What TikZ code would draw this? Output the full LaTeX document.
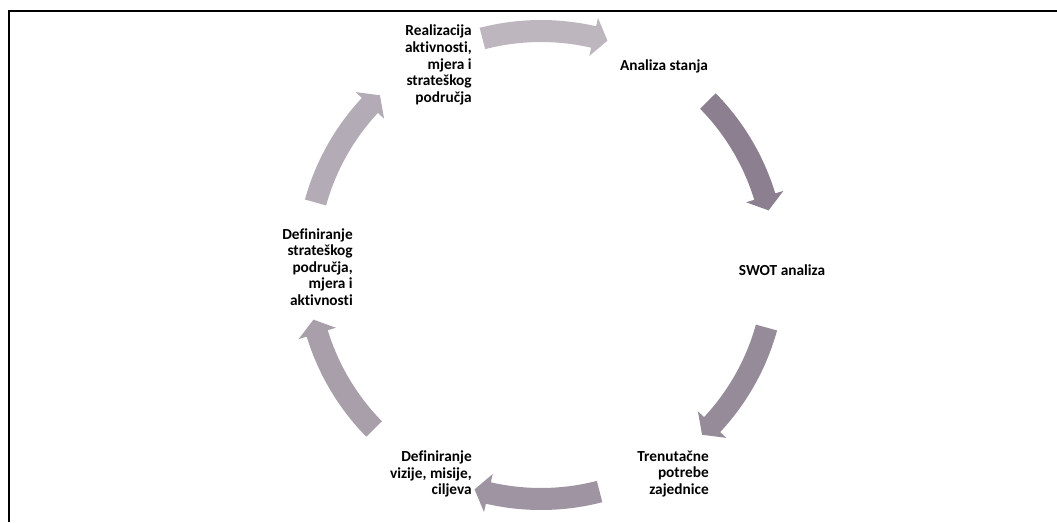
\documentclass[tikz,border=0pt]{standalone}
\usepackage{fontspec}
\setmainfont{Carlito}[Ligatures=NoCommon]
\begin{document}
\begin{tikzpicture}[x=0.75pt,y=-0.75pt,
  lbl/.style={inner sep=0pt,font=\fontsize{11.5}{12.45}\selectfont\bfseries,text=black}]
\useasboundingbox (0,0) rectangle (1057,522);
\def\ccx{541}\def\ccy{265}\def\rr{234}
\newcommand\cycarrow[3]{%
  \pgfmathsetmacro\hb{#2+3.5}%
  \fill[#3] plot[domain=#1:\hb,samples=30] ({\ccx+(\rr+11)*cos(\x)},{\ccy-(\rr+11)*sin(\x)})
    -- ({\ccx+(\rr+19.5)*cos(\hb)},{\ccy-(\rr+19.5)*sin(\hb)})
    -- ({\ccx+\rr*cos(#2)},{\ccy-\rr*sin(#2)})
    -- ({\ccx+(\rr-19.5)*cos(\hb)},{\ccy-(\rr-19.5)*sin(\hb)})
    -- plot[domain=\hb:#1,samples=30] ({\ccx+(\rr-11)*cos(\x)},{\ccy-(\rr-11)*sin(\x)})
    -- cycle;}
\definecolor{a1}{HTML}{BDB6BF}
\definecolor{a2}{HTML}{8C8090}
\definecolor{a3}{HTML}{968B99}
\definecolor{a4}{HTML}{9F95A2}
\definecolor{a5}{HTML}{A99FAB}
\definecolor{a6}{HTML}{B3ABB5}
% frame
\draw[line width=1.5pt] (8.5,522) -- (8.5,11) -- (1057,11);
% arrows
\cycarrow{104.5}{73.5}{a1}
\cycarrow{44.5}{13.5}{a2}
\cycarrow{-15.5}{-46.5}{a3}
\cycarrow{-75.5}{-106.5}{a4}
\cycarrow{-135.5}{-166.5}{a5}
\cycarrow{164.5}{133.5}{a6}
% labels
\node[lbl,anchor=east,align=right] (n6) at (472,65) {Realizacija\\aktivnosti,\\mjera i\\strateškog\\područja};
\node[lbl] (n1) at (664,66) {Analiza stanja};
\node[lbl] (n2) at (782,270) {SWOT analiza};
\node[lbl,anchor=east,align=right] (n3) at (709,474) {Trenutačne\\potrebe\\zajednice};
\node[lbl,anchor=east,align=right] (n4) at (472,474) {Definiranje\\vizije, misije,\\ciljeva};
\node[lbl,anchor=east,align=right] (n5) at (353,267) {Definiranje\\strateškog\\područja,\\mjera i\\aktivnosti};
\end{tikzpicture}
\end{document}
